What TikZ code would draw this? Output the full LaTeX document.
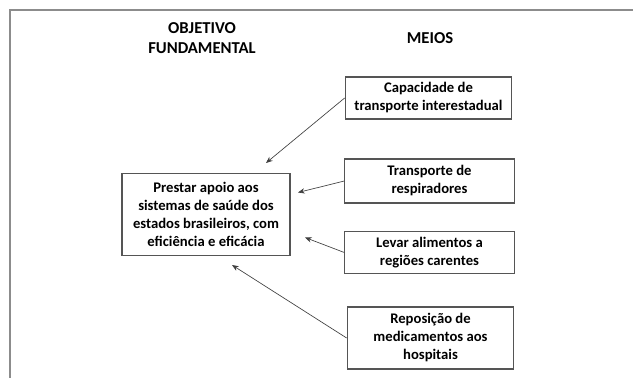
\documentclass[tikz,border=0pt]{standalone}
\usepackage{fontspec}
\setmainfont{Carlito}
\definecolor{framegray}{RGB}{140, 140, 140}
\definecolor{boxgray}{RGB}{85, 85, 85}
\usetikzlibrary{arrows.meta}

\begin{document}
\begin{tikzpicture}[x=0.75pt, y=-0.75pt,
    meio/.style={draw=boxgray, line width=0.8pt, font=\bfseries\fontsize{11}{13.5}\selectfont, align=center, inner sep=0pt},
    titulo/.style={font=\bfseries\fontsize{12.5}{15}\selectfont, align=center},
    seta/.style={-{Stealth[length=5pt, width=4pt]}, draw=black!75, line width=0.5pt}]
  \useasboundingbox (0,0) rectangle (633,378);
  % Frame
  \draw[framegray, line width=1.2pt] (10,378) -- (10,10) -- (633,10);

  % Titles
  \node[titulo] (tobj) at (202, 38) {OBJETIVO\\FUNDAMENTAL};
  \node[titulo] (tmeios) at (430, 38) {MEIOS};

  % Objective
  \node[meio, minimum width=126pt, minimum height=61pt] (prest) at (206, 214.5) {Prestar apoio aos\\sistemas de saúde dos\\estados brasileiros, com\\eficiência e eficácia};

  % Means
  \node[meio, minimum width=125pt, minimum height=31.5pt] (cap) at (428.5, 98) {Capacidade de\\transporte interestadual};
  \node[meio, minimum width=127pt, minimum height=33pt] (resp) at (429.5, 181) {Transporte de\\respiradores};
  \node[meio, minimum width=127pt, minimum height=32pt] (alim) at (429.5, 252.5) {Levar alimentos a\\regiões carentes};
  \node[meio, minimum width=125pt, minimum height=46.5pt] (repo) at (430.5, 338) {Reposição de\\medicamentos aos\\hospitais};

  % Arrow tips
  \coordinate (pcap) at (266, 163);
  \coordinate (presp) at (298, 192.5);
  \coordinate (palim) at (305, 237.5);
  \coordinate (prepo) at (232, 265);

  \draw[seta] (cap.west) -- (pcap);
  \draw[seta] (resp.west) -- (presp);
  \draw[seta] (alim.west) -- (palim);
  \draw[seta] (repo.west) -- (prepo);
\end{tikzpicture}
\end{document}
